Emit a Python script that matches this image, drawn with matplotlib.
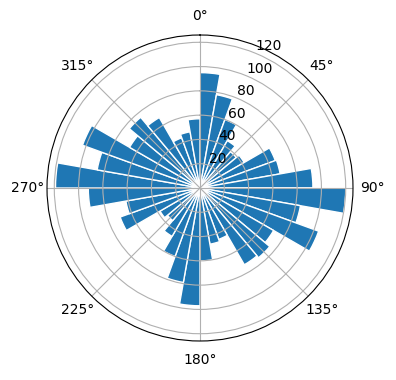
import numpy as np
import matplotlib
matplotlib.use('Agg')
import matplotlib.pyplot as plt

# direccion (grados, borde inicial de cada sector) y frecuencia
directions = np.arange(0, 360, 10)
counts = [95, 78, 60, 45, 39, 42, 66, 67, 93,
          120, 84, 104, 70, 75, 73, 45, 47, 60,
          97, 79, 60, 46, 35, 38, 70, 62, 92,
          119, 86, 103, 67, 76, 67, 44, 47, 57]

fig = plt.figure(figsize=(3.96, 3.80), dpi=100)
ax = fig.add_axes([47/396, 39/380, 306/396, 306/380], projection='polar')
ax.set_theta_zero_location('N')
ax.set_theta_direction(-1)

width = np.deg2rad(10)
ax.bar(np.deg2rad(directions), counts, width=width, align='edge',
       color='#1f77b4', edgecolor='white', linewidth=1)

fig.savefig('out.png', dpi=100)
